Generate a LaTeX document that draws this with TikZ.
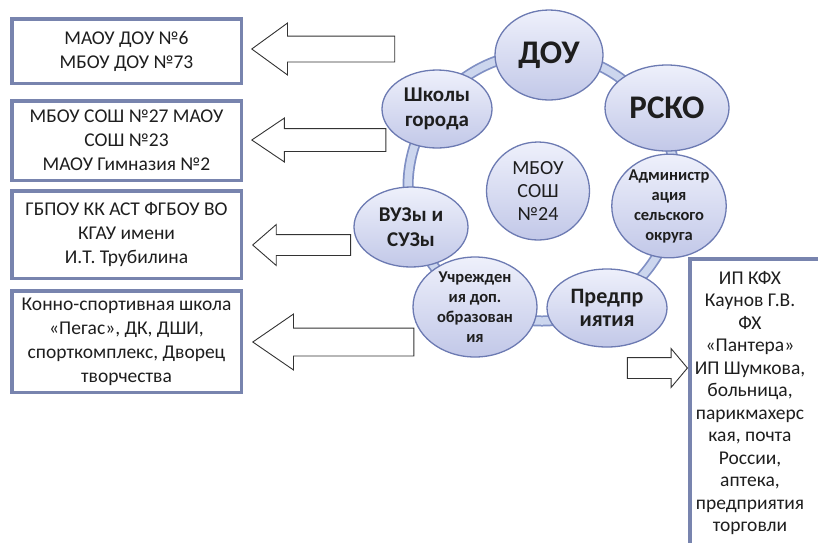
\documentclass[tikz,border=0pt]{standalone}
\usepackage{fontspec}
\setmainfont{Carlito}
\usetikzlibrary{shapes.geometric,shapes.arrows}

\definecolor{boxline}{RGB}{120,132,174}
\definecolor{bubbleline}{RGB}{108,122,178}
\definecolor{bubbletop}{RGB}{238,240,251}
\definecolor{bubblebot}{RGB}{194,200,232}
\definecolor{ringedge}{RGB}{128,144,196}
\definecolor{ringfill}{RGB}{204,214,238}
\definecolor{ink}{RGB}{30,30,30}

\begin{document}
\begin{tikzpicture}[
    x=1pt, y=-1pt,
    every node/.style={text=ink},
    box/.style={rectangle, draw=boxline, line width=3.5pt, fill=white, align=center,
                inner sep=0pt, minimum width=229.5, font=\fontsize{19.5}{24}\selectfont},
    bubble/.style={ellipse, draw=bubbleline, line width=1.3pt, top color=bubbletop,
                   bottom color=bubblebot, align=center, inner sep=0pt},
    bigtext/.style={font=\bfseries\fontsize{33}{36}\selectfont},
    midtext/.style={font=\bfseries\fontsize{21}{25}\selectfont},
    smalltext/.style={font=\bfseries\fontsize{16.5}{20}\selectfont},
    blockarrow/.style={single arrow, draw=black!80, fill=white, line width=0.9pt,
                       inner sep=0pt, minimum width=0pt, anchor=tip},
]
\useasboundingbox (0,0) rectangle (818,542);

% ring behind the bubbles
\coordinate (ringc) at (542,187);
\draw[ringedge, line width=11pt] (ringc) circle[radius=134pt];
\draw[ringfill, line width=7.5pt] (ringc) circle[radius=134pt];

\node[bubble, bigtext, minimum width=108, minimum height=90] (dou) at (549,55) {ДОУ};
\node[bubble, bigtext, minimum width=124, minimum height=86] (rsko) at (667,108) {РСКО};
\node[bubble, midtext, minimum width=110, minimum height=78] (shkoly) at (437,109) {Школы\\города};
\node[bubble, font=\fontsize{20}{23}\selectfont, minimum width=103, minimum height=98] (hub) at (538,191) {МБОУ\\СОШ\\№24};
\node[bubble, smalltext, minimum width=114, minimum height=92] (admin) at (669,206) {Администр\\ация\\сельского\\округа};
\node[bubble, midtext, minimum width=114, minimum height=80] (vuzy) at (411,227) {ВУЗы и\\СУЗы};
\node[bubble, smalltext, minimum width=124, minimum height=80] (dopobr) at (475,307) {Учрежден\\ия доп.\\образован\\ия};
\node[bubble, font=\bfseries\fontsize{22}{23}\selectfont, minimum width=120, minimum height=78] (predpr) at (607,308) {Предпр\\иятия};

% boxes on the left
\node[box, minimum height=64.5] (boxdou) at (126.5,51) {МАОУ ДОУ №6\\МБОУ ДОУ №73};
\node[box, minimum height=79.5] (boxshk) at (126.5,140.5) {МБОУ СОШ №27 МАОУ\\СОШ №23\\МАОУ Гимназия №2};
\node[box, minimum height=87.5] (boxvuz) at (126.5,234.5) {ГБПОУ КК АСТ ФГБОУ ВО\\КГАУ имени\\И.Т. Трубилина};
\node[box, minimum height=101.5] (boxdop) at (126.5,341.5) {Конно-спортивная школа\\«Пегас», ДК, ДШИ,\\спорткомплекс, Дворец\\творчества};

% box on the right, cut by the page edge
\node[box, anchor=north west, minimum width=160, minimum height=320] (boxpred) at (688,257) {};
\node[align=center, font=\fontsize{19.5}{22.5}\selectfont] (predlist) at (750,403)
    {ИП КФХ\\Каунов Г.В.\\ФХ\\«Пантера»\\ИП Шумкова,\\больница,\\парикмахерс\\кая, почта\\России,\\аптека,\\предприятия\\торговли};

% block arrows
\node[blockarrow, shape border rotate=180, minimum height=143, single arrow head extend=13,
      single arrow tip angle=72] (arrdou) at (251,49) {\rule{0pt}{25pt}};
\node[blockarrow, shape border rotate=180, minimum height=134, single arrow head extend=10.5,
      single arrow tip angle=68] (arrshk) at (251,140) {\rule{0pt}{22pt}};
\node[blockarrow, shape border rotate=180, minimum height=98, single arrow head extend=10,
      single arrow tip angle=82] (arrvuz) at (252,245) {\rule{0pt}{20pt}};
\node[blockarrow, shape border rotate=180, minimum height=161, single arrow head extend=14,
      single arrow tip angle=69] (arrdop) at (252,342) {\rule{0pt}{27pt}};
\node[blockarrow, minimum height=60, single arrow head extend=9,
      single arrow tip angle=100] (arrpred) at (688,368) {\rule{0pt}{20pt}};
\end{tikzpicture}
\end{document}
